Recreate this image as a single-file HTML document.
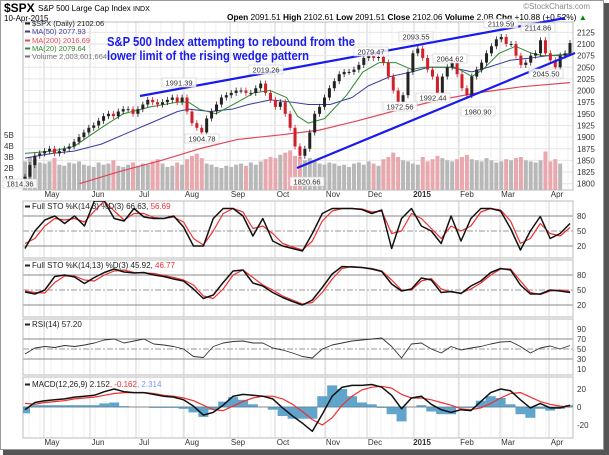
<!DOCTYPE html>
<html><head><meta charset="utf-8"><style>
html,body{margin:0;padding:0;background:#fff;}
svg{display:block;font-family:"Liberation Sans",Arial,sans-serif;}
</style></head><body>
<svg id="chart" width="609" height="455" viewBox="0 0 609 455">
<rect x="0" y="0" width="609" height="455" fill="#fff"/>
<rect x="604" y="3" width="5" height="452" fill="#555"/>
<rect x="3" y="450" width="606" height="5" fill="#555"/>
<rect x="0.5" y="0.5" width="603" height="449" fill="#fff" stroke="#999"/>
<g id="header">
<text x="4" y="12" font-size="12" font-weight="bold">$SPX</text>
<text x="38" y="11" font-size="8">S&amp;P 500 Large Cap Index <tspan font-size="7">INDX</tspan></text>
<text x="4" y="21" font-size="8">10-Apr-2015</text>
<text x="590" y="9" font-size="8" fill="#888" text-anchor="end">©StockCharts.com</text>
<text x="227" y="20" font-size="8" textLength="360" lengthAdjust="spacingAndGlyphs"><tspan font-weight="bold">Open</tspan> 2091.51 <tspan font-weight="bold">High</tspan> 2102.61 <tspan font-weight="bold">Low</tspan> 2091.51 <tspan font-weight="bold">Close</tspan> 2102.06 <tspan font-weight="bold">Volume</tspan> 2.0B <tspan font-weight="bold">Chg</tspan> +10.88 (+0.52%) <tspan fill="#080">▲</tspan></text>
</g>
<g id="grid"></g>
<g id="panels"></g>
<g id="marks"></g>
<g id="labels"></g>
</svg>
<script>
// ---------- DATA ----------
const priceCloses = [1815,1840,1860,1865,1870,1875,1865,1870,1875,1880,1890,1900,1910,1920,1925,1935,1945,1950,1945,1955,1960,1960,1950,1960,1970,1980,1975,1970,1975,1980,1985,1975,1985,1955,1930,1920,1910,1940,1955,1970,1985,1990,1995,2000,2000,1995,1995,2005,2015,1995,1980,1965,1975,1950,1920,1880,1860,1875,1910,1950,1965,1985,2005,2020,2035,2040,2040,2045,2055,2070,2075,2070,2072,2060,2030,2000,1975,1990,2040,2080,2090,2070,2045,2030,1995,2030,2050,2060,2035,2005,1990,2030,2045,2060,2080,2095,2110,2115,2100,2100,2075,2055,2060,2075,2080,2108,2080,2065,2050,2075,2080,2102];
const volumes = [2.6,3.0,2.8,2.5,2.4,2.6,2.9,2.3,2.2,2.5,2.4,2.6,2.3,2.2,2.1,2.5,2.3,2.4,2.7,2.2,2.1,2.3,2.5,2.2,2.4,2.3,2.6,2.8,2.4,2.1,2.2,2.5,2.3,2.8,3.1,3.3,2.9,2.4,2.3,2.1,2.0,2.2,2.1,2.3,2.4,2.2,2.5,2.3,2.6,2.8,3.0,2.9,3.2,3.4,3.6,3.1,3.0,2.7,2.9,2.6,2.4,2.3,2.5,2.4,2.2,2.3,2.1,2.4,2.5,2.3,2.6,2.4,2.2,2.8,3.0,3.4,3.0,2.7,2.6,2.4,2.3,3.0,2.6,2.8,3.1,2.9,2.7,2.6,2.8,3.0,3.2,2.8,2.7,2.6,2.9,2.7,2.5,2.6,2.8,2.7,2.9,3.0,2.7,2.6,2.5,2.7,3.5,2.6,2.8,2.4];
const ma20 = [[0,1865],[0.05,1870],[0.09,1880],[0.14,1920],[0.18,1950],[0.23,1965],[0.28,1975],[0.30,1975],[0.32,1960],[0.35,1950],[0.39,1975],[0.42,1995],[0.45,2000],[0.48,1985],[0.50,1945],[0.52,1930],[0.55,1940],[0.59,1990],[0.62,2040],[0.65,2060],[0.68,2060],[0.71,2045],[0.73,2050],[0.76,2050],[0.79,2050],[0.82,2030],[0.84,2045],[0.87,2080],[0.90,2095],[0.93,2080],[0.95,2075],[0.98,2075],[1,2080]];
const ma50 = [[0,1855],[0.05,1865],[0.09,1870],[0.14,1885],[0.18,1905],[0.23,1930],[0.28,1955],[0.30,1960],[0.34,1955],[0.38,1960],[0.41,1970],[0.45,1980],[0.49,1975],[0.52,1970],[0.56,1970],[0.60,1985],[0.63,2010],[0.67,2030],[0.71,2040],[0.74,2050],[0.78,2050],[0.82,2040],[0.85,2050],[0.89,2065],[0.93,2070],[0.96,2075],[1,2078]];
const ma200 = [[0.10,1800],[0.17,1825],[0.25,1850],[0.32,1875],[0.39,1895],[0.47,1905],[0.54,1915],[0.61,1935],[0.69,1960],[0.76,1980],[0.83,1995],[0.91,2008],[1,2017]];
const sto1K = [15,50,72,80,65,80,60,110,110,75,70,95,78,75,75,80,58,20,20,75,95,95,80,40,75,30,20,15,10,45,85,95,95,95,93,85,92,15,75,95,60,50,25,80,30,75,95,95,90,55,12,50,79,35,45,65];
const sto1D = [25,35,60,75,72,75,68,90,110,90,72,85,85,77,75,78,68,35,22,50,85,95,88,55,60,45,25,18,12,30,70,90,95,95,94,88,90,45,50,85,75,55,35,60,50,60,88,95,92,70,25,35,65,45,40,57];
const sto2K = [46,42,50,77,80,76,63,75,85,92,86,84,85,80,77,72,68,52,33,40,65,88,90,64,58,45,35,27,20,30,55,82,97,96,95,92,87,62,48,52,74,70,45,47,43,58,68,85,93,90,60,42,42,50,48,45];
const sto2D = [48,45,44,65,78,78,70,68,80,88,90,85,84,83,79,75,70,60,38,33,52,80,90,75,60,50,38,30,22,25,45,72,93,97,95,93,88,70,50,50,68,73,52,46,44,52,64,80,92,92,68,45,41,48,50,47];
const rsiVals = [40,52,55,53,57,55,58,62,68,70,62,66,70,60,58,55,50,35,33,55,62,65,66,62,62,52,48,42,35,32,50,58,62,66,68,70,72,55,32,60,62,50,42,55,48,52,55,60,64,65,55,42,52,56,50,57];
const macdVals = [-3,5,7,8,9,11,12,13,17,20,17,16,16,14,12,11,8,1,-9,-6,2,12,14,13,12,9,-1,-10,-18,-27,-8,12,22,24,24,25,22,13,-2,10,12,3,-3,-6,-3,-4,6,16,20,18,8,-1,4,-1,-1,2];
const signalVals = [4,3,5,6,7,9,10,11,13,15,16,16,16,15,13,12,10,7,2,-3,-4,1,6,10,12,12,9,3,-5,-14,-20,-12,2,12,19,22,23,21,14,10,10,8,5,2,-2,-3,-1,4,10,15,16,11,6,3,1,0];
const priceTicks = [1800,1825,1850,1875,1900,1925,1950,1975,2000,2025,2050,2075,2100,2125];
const volTicks = ["1B","2B","3B","4B","5B"];
const monthLabels = ["May","Jun","Jul","Aug","Sep","Oct","Nov","Dec","2015","Feb","Mar","Apr"];
const monthPos = [52,98,144,192,238,283,333,375,422,467,508,557];
const annotations = [["1991.39",179,84],["1904.78",202,140],["2019.26",266,71],["1820.66",307,183],["2079.47",371,53],["2093.55",416,38],["1972.56",400,108],["2064.62",450,60],["1992.44",433,99],["1980.90",478,113],["2119.59",501,25],["2114.86",538,29],["2045.50",546,75],["1814.36",20,185]];

// ---------- SCALES ----------
const NS="http://www.w3.org/2000/svg";
const X0=23,X1=573,XS=25,XE=570;
const xFrac=f=>XS+f*(XE-XS);
const xP=i=>xFrac(i/(priceCloses.length-1));
const xI=i=>xFrac(i/(sto1K.length-1));
const yPrice=p=>183.7-(p-1800)*0.4658;
const yVol=v=>190-v*11;
const ySto1=v=>216+(80-v)*0.5;
const ySto2=v=>275+(80-v)*0.5;
const yRsi=v=>339+(70-v)*0.5;
const yMacd=v=>407-v*0.9;
const panels=[[22,190,"main-price-panel"],[201,258,"sto-fast-panel"],[260,317,"sto-slow-panel"],[319,375,"rsi-panel"],[377,438,"macd-panel"]];

function mk(tag,attrs,parent){const e=document.createElementNS(NS,tag);for(const k in attrs)e.setAttribute(k,attrs[k]);parent.appendChild(e);return e;}
const G=document.getElementById('grid'),P=document.getElementById('panels'),M=document.getElementById('marks'),L=document.getElementById('labels');

const defs=mk('defs',{},document.getElementById('chart'));
panels.forEach((p,k)=>{const c=mk('clipPath',{id:'clip'+k},defs);mk('rect',{x:X0,y:p[0],width:X1-X0,height:p[1]-p[0]},c);});

panels.forEach(p=>{
  for(let x=X0+6;x<X1;x+=11){const ln=mk('line',{x1:x,x2:x,y1:p[0],y2:p[1],stroke:'#ececec','stroke-width':0.8},G);
    
    }
  monthPos.forEach(m=>{const ln=mk('line',{x1:m-8,x2:m-8,y1:p[0],y2:p[1],stroke:'#d4d4d4','stroke-width':1},G);
    
    });
  const r=mk('rect',{x:X0,y:p[0],width:X1-X0,height:p[1]-p[0],fill:'none',stroke:'#bbb'},P);
  
  
});
priceTicks.forEach(t=>{
  const y=yPrice(t);
  const ln=mk('line',{x1:X0,x2:X1,y1:y,y2:y,stroke:'#e6e6e6'},G);
  
  
  const tx=mk('text',{x:577,y:y+3,'font-size':8,fill:'#333'},L);tx.textContent=t;
  
  
});
volTicks.forEach((t,k)=>{
  const tx=mk('text',{x:4,y:yVol(k+1)+3,'font-size':8,fill:'#333'},L);tx.textContent=t;
  
  
});
function hline(y,dashed,name){const ln=mk('line',{x1:X0,x2:X1,y1:y,y2:y,stroke:dashed?'#999':'#888','stroke-width':1,'stroke-dasharray':dashed?'6,2,2,2':''},G);
  
  }
function tick(y,t,name){const tx=mk('text',{x:577,y:y+3,'font-size':8,fill:'#333'},L);tx.textContent=t;
  
  }
[[ySto1,'sto-fast'],[ySto2,'sto-slow']].forEach(([f,n])=>{hline(f(80),false,n+'-80-line');hline(f(20),false,n+'-20-line');hline(f(50),true,n+'-50-line');[80,50,20].forEach(v=>tick(f(v),v,n+'-tick-label'));});
hline(yRsi(70),false,'rsi-70-line');hline(yRsi(30),false,'rsi-30-line');hline(yRsi(50),true,'rsi-50-line');
[90,70,50,30,10].forEach(v=>tick(yRsi(v),v,'rsi-tick-label'));
hline(yMacd(0),false,'macd-zero-line');
[20,0,-20].forEach(v=>tick(yMacd(v),v,'macd-tick-label'));
monthLabels.forEach((m,k)=>{[197,445].forEach(y=>{const tx=mk('text',{x:monthPos[k],y:y,'font-size':8,'text-anchor':'middle',fill:'#333','font-weight':m==='2015'?'bold':'normal'},L);tx.textContent=m;
  
  });});

const gMain=mk('g',{'clip-path':'url(#clip0)'},M);
volumes.forEach((v,i)=>{
  const up=i===0||priceCloses[i]>=priceCloses[i-1];
  const b=mk('rect',{x:xP(i)-2,y:yVol(v),width:4,height:190-yVol(v),fill:up?'#b8b8b8':'#e8a8ae'},gMain);
  
  
});
function poly(pts,fx,fy,col,w,parent,name){const l=mk('polyline',{points:pts.map(p=>fx(p)+','+fy(p)).join(' '),fill:'none',stroke:col,'stroke-width':w,'stroke-linejoin':'round'},parent);
  
  return l;}
poly(ma200,p=>xFrac(p[0]),p=>yPrice(p[1]),'#e0485a',1.2,gMain,'ma200-line');
poly(ma50,p=>xFrac(p[0]),p=>yPrice(p[1]),'#3a3aa0',1,gMain,'ma50-line');
poly(ma20,p=>xFrac(p[0]),p=>yPrice(p[1]),'#2f8a2f',1,gMain,'ma20-line');
priceCloses.forEach((c,i)=>{
  const o=i===0?c-5:priceCloses[i-1];
  const up=c>=o;
  const col=up?'#222':'#d0202a';
  const top=yPrice(Math.max(o,c)),bot=yPrice(Math.min(o,c));
  const w=mk('line',{x1:xP(i),x2:xP(i),y1:top-3,y2:bot+3,stroke:col,'stroke-width':0.8},gMain);
  
  
  const b=mk('rect',{x:xP(i)-1.5,y:top,width:3,height:Math.max(1,bot-top),fill:col},gMain);
  
  
});
[[140,96,565,18,'upper-wedge-line'],[297,168,575,53,'lower-wedge-line']].forEach(t=>{
  const ln=mk('line',{x1:t[0],y1:t[1],x2:t[2],y2:t[3],stroke:'#1a1aee','stroke-width':2.2},M);
  
  
});
annotations.forEach(a=>{
  const w=a[0].length*4.3+4;
  const r=mk('rect',{x:a[1]-w/2,y:a[2]-6,width:w,height:9,fill:'#fff','fill-opacity':0.85,stroke:'#ccc','stroke-width':0.6},L);
  
  
  const tx=mk('text',{x:a[1],y:a[2]+1.5,'font-size':7.5,'text-anchor':'middle',fill:'#333'},L);tx.textContent=a[0];
  
  
});
const legend=[['#222','$SPX (Daily) 2102.06',26],['#3a3aa0','MA(50) 2077.93',34],['#e0485a','MA(200) 2016.69',43],['#2f8a2f','MA(20) 2079.64',51],['#777','Volume 2,003,601,664',59]];
legend.forEach(l=>{
  const d=mk('rect',{x:25,y:l[2]-3.5,width:5,height:2,fill:l[0]},L);
  
  
  const tx=mk('text',{x:32,y:l[2],'font-size':7.5,fill:l[0]},L);tx.textContent=l[1];
  
  
});
[['S&P 500 Index attempting to rebound from the',46,248],['lower limit of the rising wedge pattern',60,202]].forEach(t=>{
  const tx=mk('text',{x:107,y:t[1],'font-size':12.5,'font-weight':'bold',fill:'#1a1aee',textLength:t[2],lengthAdjust:'spacingAndGlyphs'},L);tx.textContent=t[0];
  
  
});
function series(vals,fy,col,w,clip,name){const g=mk('g',{'clip-path':'url(#clip'+clip+')'},M);
  const l=mk('polyline',{points:vals.map((v,i)=>xI(i)+','+fy(v)).join(' '),fill:'none',stroke:col,'stroke-width':w,'stroke-linejoin':'round'},g);
  
  }
series(sto1D,ySto1,'#f03030',1.2,1,'sto-fast-d-line');
series(sto1K,ySto1,'#111',1.5,1,'sto-fast-k-line');
series(sto2D,ySto2,'#f03030',1.2,2,'sto-slow-d-line');
series(sto2K,ySto2,'#111',1.5,2,'sto-slow-k-line');
series(rsiVals,yRsi,'#333',0.9,3,'rsi-line');
const gH=mk('g',{'clip-path':'url(#clip4)'},M);
macdVals.forEach((v,i)=>{
  const h=v-signalVals[i];
  const y0=yMacd(0),y1=yMacd(h);
  const b=mk('rect',{x:xI(i)-5,y:Math.min(y0,y1),width:10,height:Math.abs(y1-y0),fill:'#3a8fbf','fill-opacity':0.8},gH);
  
  
});
series(signalVals,yMacd,'#f03030',1.2,4,'macd-signal-line');
series(macdVals,yMacd,'#111',1.5,4,'macd-line');
[['Full STO %K(14,3) %D(3) 66.63, ','56.69',209],['Full STO %K(14,13) %D(3) 45.92, ','46.77',268],['RSI(14) 57.20','',327]].forEach(t=>{
  const tx=mk('text',{x:32,y:t[2],'font-size':8,fill:'#222'},L);tx.textContent=t[0];
  
  
  if(t[1]){const s=mk('tspan',{fill:'#f03030'},tx);s.textContent=t[1];}
  const d=mk('rect',{x:25,y:t[2]-3.5,width:5,height:2,fill:'#222'},L);
  
  
});
const mt=mk('text',{x:32,y:387,'font-size':8,fill:'#222'},L);mt.textContent='MACD(12,26,9) 2.152';


const s1=mk('tspan',{fill:'#f03030'},mt);s1.textContent=', -0.162';
const s2=mk('tspan',{fill:'#7a9af0'},mt);s2.textContent=', 2.314';
const md=mk('rect',{x:25,y:383.5,width:5,height:2,fill:'#222'},L);


</script>
</body></html>
